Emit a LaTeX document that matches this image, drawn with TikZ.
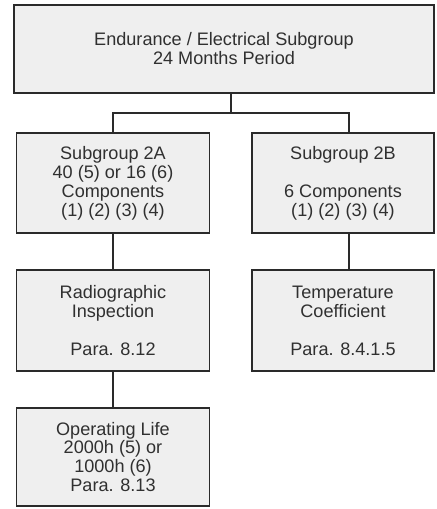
\documentclass[tikz,border=0pt]{standalone}
\usepackage{fontspec}
\setmainfont{Liberation Sans}
\usetikzlibrary{positioning,calc}
\definecolor{boxfill}{HTML}{EFEFEF}
\definecolor{boxline}{HTML}{2A2A2A}
\definecolor{textgray}{HTML}{303030}
\tikzset{
  stage/.style={rectangle,draw=boxline,line width=1pt,fill=boxfill,align=center,
                text=textgray,inner sep=0,font=\fontsize{10.3}{10.8}\selectfont},
  link/.style={draw=boxline,line width=1pt},
}

\begin{document}
\begin{tikzpicture}[x=0.02cm,y=-0.02cm]
  \useasboundingbox (0,0) rectangle (436,509);
  % top of the tree
  \node[stage,minimum width=8.4cm,minimum height=1.76cm] (top) at (224,49)
    {Endurance / Electrical Subgroup\\24 Months Period};
  % the two subgroups
  \node[stage,minimum width=3.86cm,minimum height=2cm] (subA) at (113,183)
    {Subgroup 2A\\40 (5) or 16 (6)\\Components\\(1) (2) (3) (4)};
  \node[stage,minimum width=3.64cm,minimum height=2cm] (subB) at (343,183)
    {Subgroup 2B\\[10.8pt]6 Components\\(1) (2) (3) (4)};
  % tests
  \node[stage,minimum width=3.86cm,minimum height=2.02cm] (radio) at (113,320.5)
    {Radiographic\\Inspection\\[10.8pt]Para. 8.12};
  \node[stage,minimum width=3.64cm,minimum height=2.02cm] (tempco) at (343,320.5)
    {Temperature\\Coefficient\\[10.8pt]Para. 8.4.1.5};
  \node[stage,minimum width=3.86cm,minimum height=1.96cm] (oplife) at (113,457)
    {Operating Life\\2000h (5) or\\1000h (6)\\Para. 8.13};
  % connectors
  \coordinate (fork) at (231,113);
  \draw[link] ([xshift=0.14cm]top.south) -- (fork);
  \draw[link] (subA.north) |- (fork) -| ([xshift=0.12cm]subB.north);
  \draw[link] (subA) -- (radio);
  \draw[link] (radio) -- (oplife);
  \draw[link] ([xshift=0.12cm]subB.south) -- ([xshift=0.12cm]tempco.north);
\end{tikzpicture}
\end{document}
